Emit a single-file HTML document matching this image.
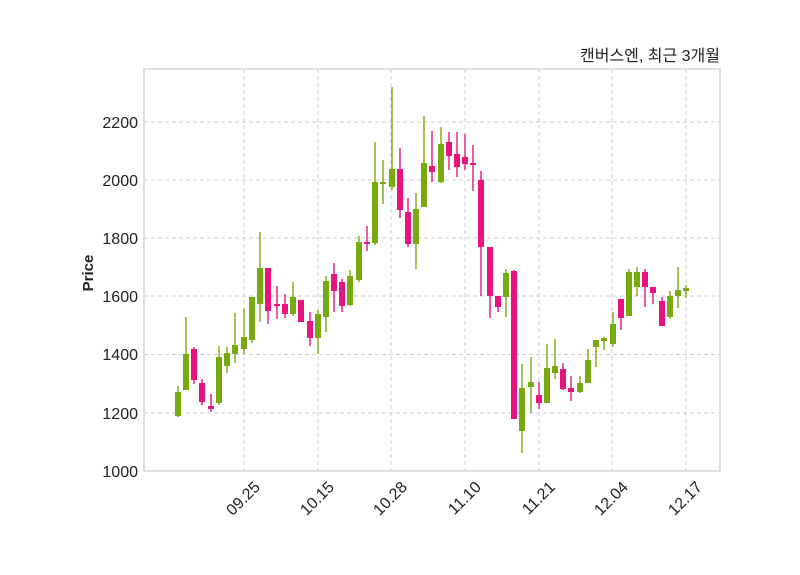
<!DOCTYPE html>
<html><head><meta charset="utf-8"><style>
html,body{margin:0;padding:0;background:#fff;}
svg{display:block;font-family:"Liberation Sans","Noto Sans CJK KR",sans-serif;}
</style></head><body>
<svg width="800" height="575" viewBox="0 0 800 575" xmlns="http://www.w3.org/2000/svg">
<rect width="800" height="575" fill="#fff"/>
<g stroke="#cfcfcf" stroke-width="1" stroke-dasharray="4,3">
<line x1="144" x2="720" y1="413" y2="413"/><line x1="144" x2="720" y1="354.5" y2="354.5"/>
<line x1="144" x2="720" y1="296" y2="296"/><line x1="144" x2="720" y1="238" y2="238"/>
<line x1="144" x2="720" y1="180" y2="180"/><line x1="144" x2="720" y1="122" y2="122"/>
<line y1="69" y2="471" x1="244" x2="244"/><line y1="69" y2="471" x1="318" x2="318"/>
<line y1="69" y2="471" x1="391" x2="391"/><line y1="69" y2="471" x1="465" x2="465"/>
<line y1="69" y2="471" x1="539" x2="539"/><line y1="69" y2="471" x1="612" x2="612"/>
<line y1="69" y2="471" x1="686" x2="686"/>
</g>
<rect x="144" y="69" width="576" height="402" fill="none" stroke="#d6d6d6" stroke-width="1.5"/>
<g stroke="#77aa0f" fill="#77aa0f" stroke-width="1.4">
<line x1="178" x2="178" y1="386" y2="417"/><rect x="175" y="392" width="6" height="24" stroke="none"/>
<line x1="186" x2="186" y1="317" y2="390"/><rect x="183" y="354" width="6" height="36" stroke="none"/>
<line x1="219" x2="219" y1="346" y2="405"/><rect x="216" y="357" width="6" height="46" stroke="none"/>
<line x1="227" x2="227" y1="347" y2="373"/><rect x="224" y="353" width="6" height="13" stroke="none"/>
<line x1="235" x2="235" y1="313" y2="363"/><rect x="232" y="345" width="6" height="9" stroke="none"/>
<line x1="244" x2="244" y1="309" y2="354"/><rect x="241" y="337" width="6" height="12" stroke="none"/>
<line x1="252" x2="252" y1="297" y2="343"/><rect x="249" y="297" width="6" height="43" stroke="none"/>
<line x1="260" x2="260" y1="232" y2="322"/><rect x="257" y="268" width="6" height="36" stroke="none"/>
<line x1="293" x2="293" y1="282" y2="316"/><rect x="290" y="297" width="6" height="17" stroke="none"/>
<line x1="318" x2="318" y1="310" y2="354"/><rect x="315" y="314" width="6" height="24" stroke="none"/>
<line x1="326" x2="326" y1="276" y2="332"/><rect x="323" y="281" width="6" height="36" stroke="none"/>
<line x1="350" x2="350" y1="270" y2="306"/><rect x="347" y="276" width="6" height="29" stroke="none"/>
<line x1="359" x2="359" y1="236" y2="282"/><rect x="356" y="242" width="6" height="38" stroke="none"/>
<line x1="375" x2="375" y1="142" y2="245"/><rect x="372" y="182" width="6" height="61" stroke="none"/>
<line x1="383" x2="383" y1="160" y2="204"/><rect x="380" y="182" width="6" height="2" stroke="none"/>
<line x1="392" x2="392" y1="87" y2="190"/><rect x="389" y="169" width="6" height="18" stroke="none"/>
<line x1="416" x2="416" y1="193" y2="269"/><rect x="413" y="209" width="6" height="35" stroke="none"/>
<line x1="424" x2="424" y1="116" y2="207"/><rect x="421" y="163" width="6" height="44" stroke="none"/>
<line x1="441" x2="441" y1="127" y2="183"/><rect x="438" y="144" width="6" height="38" stroke="none"/>
<line x1="506" x2="506" y1="269" y2="317"/><rect x="503" y="273" width="6" height="24" stroke="none"/>
<line x1="522" x2="522" y1="364" y2="453"/><rect x="519" y="388" width="6" height="43" stroke="none"/>
<line x1="531" x2="531" y1="357" y2="413"/><rect x="528" y="382" width="6" height="5" stroke="none"/>
<line x1="547" x2="547" y1="344" y2="403"/><rect x="544" y="368" width="6" height="35" stroke="none"/>
<line x1="555" x2="555" y1="339" y2="379"/><rect x="552" y="366" width="6" height="7" stroke="none"/>
<line x1="580" x2="580" y1="376" y2="393"/><rect x="577" y="383" width="6" height="9" stroke="none"/>
<line x1="588" x2="588" y1="349" y2="383"/><rect x="585" y="360" width="6" height="23" stroke="none"/>
<line x1="596" x2="596" y1="340" y2="367"/><rect x="593" y="340" width="6" height="7" stroke="none"/>
<line x1="604" x2="604" y1="337" y2="350"/><rect x="601" y="338" width="6" height="3" stroke="none"/>
<line x1="613" x2="613" y1="312" y2="347"/><rect x="610" y="324" width="6" height="20" stroke="none"/>
<line x1="629" x2="629" y1="269" y2="316"/><rect x="626" y="272" width="6" height="44" stroke="none"/>
<line x1="637" x2="637" y1="267" y2="296"/><rect x="634" y="272" width="6" height="15" stroke="none"/>
<line x1="670" x2="670" y1="291" y2="319"/><rect x="667" y="296" width="6" height="21" stroke="none"/>
<line x1="678" x2="678" y1="267" y2="308"/><rect x="675" y="290" width="6" height="6" stroke="none"/>
<line x1="686" x2="686" y1="285" y2="298"/><rect x="683" y="288" width="6" height="3" stroke="none"/>
</g>
<g stroke="#e8137e" fill="#e8137e" stroke-width="1.4">
<line x1="194" x2="194" y1="347" y2="384"/><rect x="191" y="349" width="6" height="31" stroke="none"/>
<line x1="202" x2="202" y1="379" y2="405"/><rect x="199" y="383" width="6" height="19" stroke="none"/>
<line x1="211" x2="211" y1="394" y2="412"/><rect x="208" y="406" width="6" height="3" stroke="none"/>
<line x1="268" x2="268" y1="268" y2="324"/><rect x="265" y="268" width="6" height="43" stroke="none"/>
<line x1="277" x2="277" y1="286" y2="319"/><rect x="274" y="304" width="6" height="2" stroke="none"/>
<line x1="285" x2="285" y1="294" y2="318"/><rect x="282" y="304" width="6" height="10" stroke="none"/>
<line x1="301" x2="301" y1="300" y2="322"/><rect x="298" y="300" width="6" height="22" stroke="none"/>
<line x1="310" x2="310" y1="312" y2="346"/><rect x="307" y="321" width="6" height="17" stroke="none"/>
<line x1="334" x2="334" y1="263" y2="312"/><rect x="331" y="274" width="6" height="17" stroke="none"/>
<line x1="342" x2="342" y1="279" y2="312"/><rect x="339" y="282" width="6" height="24" stroke="none"/>
<line x1="367" x2="367" y1="226" y2="251"/><rect x="364" y="242" width="6" height="2" stroke="none"/>
<line x1="400" x2="400" y1="148" y2="218"/><rect x="397" y="169" width="6" height="41" stroke="none"/>
<line x1="408" x2="408" y1="198" y2="247"/><rect x="405" y="212" width="6" height="32" stroke="none"/>
<line x1="432" x2="432" y1="131" y2="182"/><rect x="429" y="166" width="6" height="6" stroke="none"/>
<line x1="449" x2="449" y1="132" y2="170"/><rect x="446" y="142" width="6" height="14" stroke="none"/>
<line x1="457" x2="457" y1="132" y2="177"/><rect x="454" y="154" width="6" height="13" stroke="none"/>
<line x1="465" x2="465" y1="134" y2="170"/><rect x="462" y="157" width="6" height="7" stroke="none"/>
<line x1="473" x2="473" y1="145" y2="191"/><rect x="470" y="163" width="6" height="2" stroke="none"/>
<line x1="481" x2="481" y1="171" y2="296"/><rect x="478" y="180" width="6" height="67" stroke="none"/>
<line x1="490" x2="490" y1="247" y2="318"/><rect x="487" y="247" width="6" height="49" stroke="none"/>
<line x1="498" x2="498" y1="296" y2="312"/><rect x="495" y="296" width="6" height="11" stroke="none"/>
<line x1="514" x2="514" y1="270" y2="419"/><rect x="511" y="271" width="6" height="148" stroke="none"/>
<line x1="539" x2="539" y1="382" y2="409"/><rect x="536" y="395" width="6" height="8" stroke="none"/>
<line x1="563" x2="563" y1="363" y2="390"/><rect x="560" y="369" width="6" height="20" stroke="none"/>
<line x1="571" x2="571" y1="376" y2="401"/><rect x="568" y="388" width="6" height="4" stroke="none"/>
<line x1="621" x2="621" y1="299" y2="330"/><rect x="618" y="299" width="6" height="19" stroke="none"/>
<line x1="645" x2="645" y1="269" y2="307"/><rect x="642" y="272" width="6" height="15" stroke="none"/>
<line x1="653" x2="653" y1="287" y2="304"/><rect x="650" y="287" width="6" height="6" stroke="none"/>
<line x1="662" x2="662" y1="297" y2="326"/><rect x="659" y="301" width="6" height="25" stroke="none"/>
</g>
<g font-size="16" fill="#222" text-anchor="end">
<text x="138" y="477">1000</text><text x="138" y="419">1200</text><text x="138" y="360">1400</text>
<text x="138" y="302">1600</text><text x="138" y="244">1800</text><text x="138" y="186">2000</text><text x="138" y="128">2200</text>
</g>
<g font-size="16" fill="#222" text-anchor="end">
<text transform="translate(261,488) rotate(-45)">09.25</text>
<text transform="translate(335,488) rotate(-45)">10.15</text>
<text transform="translate(408,488) rotate(-45)">10.28</text>
<text transform="translate(482,488) rotate(-45)">11.10</text>
<text transform="translate(556,488) rotate(-45)">11.21</text>
<text transform="translate(629,488) rotate(-45)">12.04</text>
<text transform="translate(703,488) rotate(-45)">12.17</text>
</g>
<text transform="translate(93,273) rotate(-90)" font-size="15" font-weight="bold" fill="#222" text-anchor="middle">Price</text>
<text x="720" y="61" font-size="16" fill="#222" text-anchor="end">캔버스엔, 최근 3개월</text>
</svg>
</body></html>
